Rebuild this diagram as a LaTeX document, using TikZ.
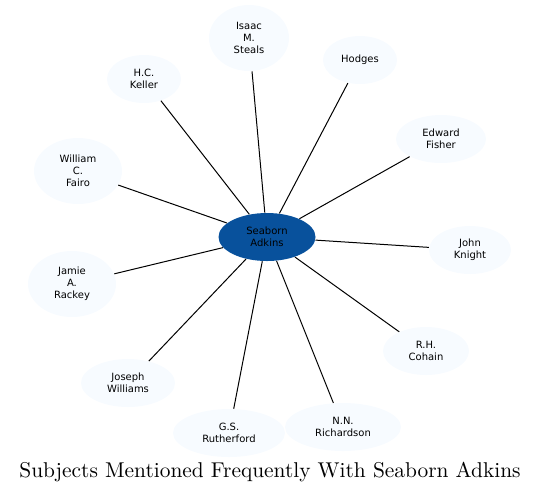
\documentclass[tikz,border=0pt]{standalone}
\usepackage{fontspec}
\newfontfamily\labelfont{DejaVu Sans}
\usetikzlibrary{shapes.geometric}
\definecolor{hubblue}{HTML}{08519C}
\definecolor{leafblue}{HTML}{F7FBFF}
\tikzstyle{subject}=[ellipse,fill=leafblue,draw=none,align=center,inner sep=0pt,font=\labelfont\fontsize{5}{6}\selectfont]
\tikzstyle{hub}=[subject,fill=hubblue]
\tikzstyle{link}=[draw=black,line width=0.5pt]

\begin{document}
\begin{tikzpicture}[x=0.5pt,y=-0.5pt]
    \useasboundingbox (0,0) rectangle (540,495);
    % the person in the middle
    \node[hub, minimum width=48.5pt, minimum height=24pt] (adkins) at (267,237) {Seaborn\\Adkins};
    % subjects round it
    \node[subject, minimum width=40pt, minimum height=33pt] (steals) at (249,38) {Isaac\\M.\\Steals};
    \node[subject, minimum width=37pt, minimum height=24pt] (hodges) at (360,60) {Hodges};
    \node[subject, minimum width=37pt, minimum height=24pt] (keller) at (144,79) {H.C.\\Keller};
    \node[subject, minimum width=45pt, minimum height=24pt] (fisher) at (441,139) {Edward\\Fisher};
    \node[subject, minimum width=44pt, minimum height=33pt] (fairo) at (78,171) {William\\C.\\Fairo};
    \node[subject, minimum width=41pt, minimum height=24pt] (knight) at (470,250) {John\\Knight};
    \node[subject, minimum width=44pt, minimum height=33pt] (rackey) at (72,284) {Jamie\\A.\\Rackey};
    \node[subject, minimum width=43pt, minimum height=24pt] (cohain) at (426,351) {R.H.\\Cohain};
    \node[subject, minimum width=47pt, minimum height=24pt] (williams) at (128,383) {Joseph\\Williams};
    \node[subject, minimum width=56pt, minimum height=24pt] (rutherford) at (229,433) {G.S.\\Rutherford};
    \node[subject, minimum width=58pt, minimum height=24pt] (richardson) at (343,427) {N.N.\\Richardson};
    \foreach \s in {steals,hodges,keller,fisher,fairo,knight,rackey,cohain,williams,rutherford,richardson}
        \draw[link] (adkins) -- (\s);
    % caption
    \node[font=\fontsize{10.7}{12}\selectfont] (caption) at (270,472) {Subjects Mentioned Frequently With Seaborn Adkins};
\end{tikzpicture}
\end{document}
